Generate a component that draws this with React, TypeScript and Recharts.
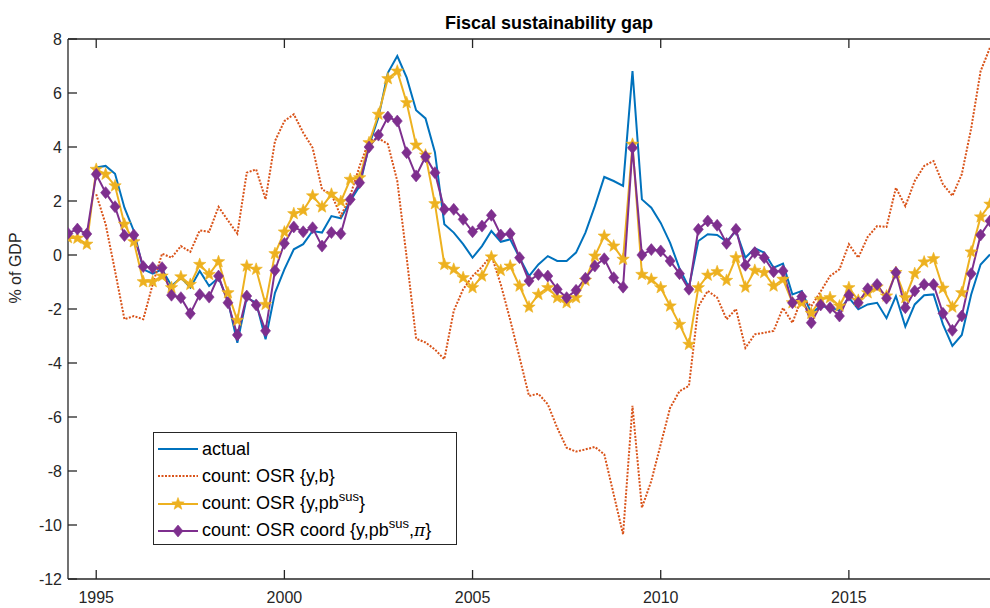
import React from 'react';
import { LineChart, Line, XAxis, YAxis, ReferenceLine } from 'recharts';

// quarterly observations, first one is 1994.25
const START_YEAR = 1994.25;

const actual = [
  null, null, null, 3.24, 3.3, 3.01, 1.75, 0.89, -0.53, -0.69, -0.53, -1.15, -0.84, -1.21, -0.59, -1.15,
  -0.84, -1.7, -3.25, -1.58, -1.77, -3.12, -1.4, -0.53, 0.21, 0.4, 0.89, 0.83, 1.44, 1.36, 2.0, 2.55,
  4.05, 5.1, 6.75, 7.37, 6.57, 5.36, 5.06, 3.81, 1.14, 0.83, 0.4, -0.1, 0.33, 0.89, 0.49, 0.58,
  -0.1, -0.78, -0.35, -0.04, -0.22, -0.22, 0.09, 0.83, 1.81, 2.89, 2.74, 2.56, 6.81, 2.06, 1.75, 1.19,
  0.45, -0.5, -1.2, 0.52, 0.77, 0.74, 0.49, 0.89, -0.1, 0.25, 0.09, -0.47, -0.32, -1.46, -1.33, -2.16,
  -1.89, -1.95, -2.05, -1.58, -2.01, -1.83, -1.77, -2.34, -1.52, -2.65, -1.83, -1.49, -1.46, -2.57, -3.37, -2.96,
  -1.46, -0.35, 0.02,
];

const osrYB = [
  null, null, null, 2.25, 1.14, -0.59, -2.38, -2.26, -2.38, -1.09, 0.05, -0.1, 0.33, 0.12, 0.91, 0.86,
  1.78, 1.28, 0.79, 3.05, 3.17, 2.06, 4.22, 4.96, 5.21, 4.53, 3.97, 2.43, 2.25, 1.44, 2.2, 3.3,
  4.22, 4.32, 4.11, 2.74, -0.1, -3.1, -3.24, -3.5, -3.86, -2.07, -1.27, -0.78, -0.44, 0.0, -1.09, -2.4,
  -3.8, -5.22, -5.14, -5.53, -6.4, -7.14, -7.28, -7.2, -7.11, -7.38, -8.86, -10.35, -5.59, -9.36, -8.37, -7.01,
  -5.66, -5.04, -4.85, -1.9, -1.33, -1.58, -2.38, -2.0, -3.44, -2.94, -2.88, -2.81, -1.96, -2.51, -1.58, -1.9,
  -1.35, -0.78, -0.53, 0.4, -0.1, 0.67, 1.07, 1.04, 2.49, 1.81, 2.74, 3.3, 3.48, 2.62, 2.19, 2.99,
  4.69, 6.81, 7.68,
];

const osrYPb = [
  0.64, 0.62, 0.4, 3.17, 2.99, 2.56, 1.14, 0.49, -0.99, -0.99, -0.78, -1.21, -0.81, -1.09, -0.35, -0.72,
  -0.25, -1.4, -2.42, -0.41, -0.53, -1.83, 0.05, 0.85, 1.53, 1.65, 2.19, 1.78, 2.25, 1.98, 2.8, 2.86,
  4.16, 5.21, 6.53, 6.81, 5.64, 4.07, 3.7, 1.9, -0.35, -0.53, -0.84, -1.21, -0.78, -0.07, -0.57, -0.41,
  -1.15, -1.93, -1.46, -1.21, -1.58, -1.77, -1.58, -0.94, -0.04, 0.7, 0.33, -0.16, 4.1, -0.72, -0.9, -1.21,
  -1.89, -2.57, -3.31, -1.21, -0.75, -0.62, -0.94, -0.1, -1.19, -0.57, -0.65, -1.15, -0.9, -1.77, -1.77, -2.16,
  -1.64, -1.58, -1.89, -1.21, -1.68, -1.4, -1.19, -1.52, -0.65, -1.58, -0.69, -0.26, -0.14, -1.23, -1.93, -1.4,
  0.11, 1.41, 1.88,
];

const osrCoord = [
  0.8, 0.96, 0.78, 2.99, 2.31, 1.79, 0.72, 0.74, -0.43, -0.47, -0.47, -1.49, -1.58, -2.17, -1.46, -1.56,
  -0.78, -1.77, -2.96, -1.52, -1.85, -2.81, -0.57, 0.43, 1.04, 0.86, 1.01, 0.33, 0.83, 0.79, 2.06, 2.68,
  4.0, 4.44, 5.11, 4.96, 3.79, 2.93, 3.64, 3.05, 1.69, 1.69, 1.32, 0.86, 1.07, 1.47, 0.74, 0.79,
  -0.1, -0.96, -0.72, -0.78, -1.27, -1.58, -1.31, -0.86, -0.41, -0.14, -0.84, -1.19, 3.97, 0.0, 0.2, 0.15,
  -0.22, -0.69, -1.27, 0.95, 1.26, 1.1, 0.43, 0.95, -0.38, 0.09, -0.1, -0.62, -0.59, -1.77, -1.54, -2.51,
  -1.85, -1.95, -2.26, -1.49, -1.77, -1.25, -1.09, -1.6, -0.65, -1.95, -1.33, -1.09, -1.09, -2.16, -2.79, -2.26,
  -0.69, 0.74, 1.26,
];

const xTicks = [1995, 2000, 2005, 2010, 2015];
const yTicks = [-12, -10, -8, -6, -4, -2, 0, 2, 4, 6, 8];

const BLUE = '#0072BD';
const ORANGE = '#D95319';
const YELLOW = '#EDB120';
const PURPLE = '#7E2F8E';
const AXIS = '#262626';
const FONT = '"Liberation Sans", Arial, Helvetica, sans-serif';
const PLOT_TOP = 39;

const data = actual.map((v, i) => ({
  t: START_YEAR + i * 0.25,
  actual: v,
  osrYB: osrYB[i],
  osrYPb: osrYPb[i],
  osrCoord: osrCoord[i],
}));

const starPoints = (cx: number, cy: number, R: number, r: number) => {
  const pts: string[] = [];
  for (let k = 0; k < 10; k++) {
    const rad = k % 2 === 0 ? R : r;
    const a = -Math.PI / 2 + (k * Math.PI) / 5;
    pts.push(`${(cx + rad * Math.cos(a)).toFixed(2)},${(cy + rad * Math.sin(a)).toFixed(2)}`);
  }
  return pts.join(' ');
};

const StarDot = (props: any) => {
  const { cx, cy, index } = props;
  if (cx == null || cy == null) return <g key={`s-${index}`} />;
  return <polygon key={`s-${index}`} points={starPoints(cx, cy, 6.5, 2.7)} fill={YELLOW} stroke={YELLOW} strokeWidth={0.6} />;
};

const DiamondDot = (props: any) => {
  const { cx, cy, index } = props;
  if (cx == null || cy == null) return <g key={`d-${index}`} />;
  const w = 5, h = 6;
  return (
    <polygon
      key={`d-${index}`}
      points={`${cx},${cy - h} ${cx + w},${cy} ${cx},${cy + h} ${cx - w},${cy}`}
      fill={PURPLE}
      stroke={PURPLE}
      strokeWidth={0.6}
    />
  );
};

// bottom tick also draws the matching inward tick on the top box edge
const BottomTick = ({ x, y, payload }: any) => (
  <g>
    <line x1={x} y1={y} x2={x} y2={y - 9} stroke={AXIS} strokeWidth={1.3} />
    <line x1={x} y1={PLOT_TOP} x2={x} y2={PLOT_TOP + 9} stroke={AXIS} strokeWidth={1.3} />
    <text x={x} y={y + 24} textAnchor="middle" fontSize={16} fontFamily={FONT} fill={AXIS}>
      {payload.value}
    </text>
  </g>
);

const LeftTick = ({ x, y, payload }: any) => (
  <g>
    <line x1={x} y1={y} x2={x + 9} y2={y} stroke={AXIS} strokeWidth={1.3} />
    <text x={x - 6} y={y + 6} textAnchor="end" fontSize={16} fontFamily={FONT} fill={AXIS}>
      {payload.value}
    </text>
  </g>
);

const Sup = ({ children }: any) => (
  <span style={{ fontSize: 13, position: 'relative', top: -8 }}>{children}</span>
);

const legendItems = [
  { key: 'actual', color: BLUE, dash: undefined, marker: null, label: <>actual</> },
  { key: 'osrYB', color: ORANGE, dash: '2 1.5', marker: null, label: <>count: OSR {'{'}y,b{'}'}</> },
  { key: 'osrYPb', color: YELLOW, dash: undefined, marker: 'star', label: <>count: OSR {'{'}y,pb<Sup>sus</Sup>{'}'}</> },
  {
    key: 'osrCoord',
    color: PURPLE,
    dash: undefined,
    marker: 'diamond',
    label: (
      <>
        count: OSR coord {'{'}y,pb<Sup>sus</Sup>,
        <span style={{ fontFamily: '"DejaVu Serif", serif', fontStyle: 'italic', fontSize: 17 }}>π</span>
        {'}'}
      </>
    ),
  },
];

const LegendBox = () => (
  <div
    style={{
      position: 'absolute',
      left: 153,
      top: 432,
      width: 302,
      height: 111,
      border: `1.3px solid ${AXIS}`,
      background: '#fff',
      fontFamily: FONT,
      fontSize: 18,
      color: '#000',
    }}
  >
    {legendItems.map((item, i) => (
      <div key={item.key} style={{ position: 'absolute', left: 3, top: 3 + i * 27.3, height: 26, display: 'flex', alignItems: 'center', whiteSpace: 'nowrap' }}>
        <svg width={42} height={20} style={{ marginRight: 3 }}>
          <line x1={1} y1={10} x2={41} y2={10} stroke={item.color} strokeWidth={2} strokeDasharray={item.dash} />
          {item.marker === 'star' && <polygon points={starPoints(21, 10, 6.5, 2.7)} fill={YELLOW} stroke={YELLOW} strokeWidth={0.6} />}
          {item.marker === 'diamond' && <polygon points="21,4 26,10 21,16 16,10" fill={PURPLE} stroke={PURPLE} strokeWidth={0.6} />}
        </svg>
        <span>{item.label}</span>
      </div>
    ))}
  </div>
);

export default function App() {
  return (
    <div style={{ position: 'absolute', left: 0, top: 0, width: 990, height: 608, overflow: 'hidden', background: '#fff' }}>
      <LineChart width={990} height={608} data={data} margin={{ top: PLOT_TOP, right: 0, bottom: 0, left: 0 }}>
        <XAxis
          dataKey="t"
          type="number"
          domain={[1994.25, 2018.75]}
          allowDataOverflow
          ticks={xTicks}
          height={29}
          tickSize={0}
          tickMargin={0}
          tickLine={false}
          axisLine={{ stroke: AXIS, strokeWidth: 1.3 }}
          tick={<BottomTick />}
        />
        <YAxis
          type="number"
          domain={[-12, 8]}
          allowDataOverflow
          ticks={yTicks}
          width={68}
          tickSize={0}
          tickMargin={0}
          tickLine={false}
          axisLine={{ stroke: AXIS, strokeWidth: 1.3 }}
          tick={<LeftTick />}
        />
        <ReferenceLine y={8} stroke={AXIS} strokeWidth={1.3} />
        <Line dataKey="actual" stroke={BLUE} strokeWidth={2} dot={false} activeDot={false} isAnimationActive={false} />
        <Line
          dataKey="osrYB"
          stroke={ORANGE}
          strokeWidth={2}
          strokeDasharray="2 1.5"
          dot={false}
          activeDot={false}
          isAnimationActive={false}
        />
        <Line dataKey="osrYPb" stroke={YELLOW} strokeWidth={2} dot={<StarDot />} activeDot={false} isAnimationActive={false} />
        <Line dataKey="osrCoord" stroke={PURPLE} strokeWidth={2} dot={<DiamondDot />} activeDot={false} isAnimationActive={false} />
        <text x={549} y={29} textAnchor="middle" fontFamily={FONT} fontSize={18} fontWeight="bold" fill="#000">
          Fiscal sustainability gap
        </text>
        <text
          x={21}
          y={268}
          transform="rotate(-90 21 268)"
          textAnchor="middle"
          fontFamily={FONT}
          fontSize={16}
          fill={AXIS}
        >
          % of GDP
        </text>
      </LineChart>
      <LegendBox />
    </div>
  );
}
